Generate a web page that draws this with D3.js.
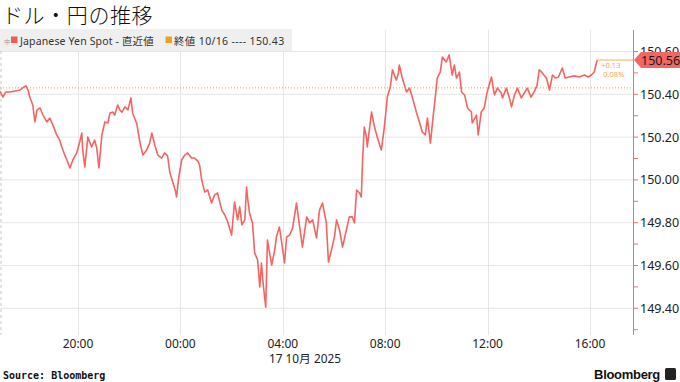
<!DOCTYPE html>
<html><head><meta charset="utf-8">
<script src="https://cdn.jsdelivr.net/npm/d3@7"></script>
<style>html,body{margin:0;padding:0;background:#fff;}svg{display:block;}</style>
</head><body><svg id="c" width="680" height="382"></svg>
<script>
const title = "ドル・円の推移";
const seriesName = "Japanese Yen Spot - 直近値";
const prevCloseLabel = "終値 10/16 ---- 150.43";
const prevClose = 150.43;
const lastValue = 150.56;
const changeText = ["+0.13", "0.08%"];
const yTicks = [149.40, 149.60, 149.80, 150.00, 150.20, 150.40, 150.60];
const yMinorTicks = [149.30, 149.50, 149.70, 149.90, 150.10, 150.30, 150.50];
const xTicks = ["2025-10-16 20:00","2025-10-17 00:00","2025-10-17 04:00","2025-10-17 08:00","2025-10-17 12:00","2025-10-17 16:00"];
const dateLabel = "17 10月 2025";
const source = "Source: Bloomberg";

const times = [
"10-16 16:57","10-16 17:04","10-16 17:11","10-16 17:20","10-16 17:32","10-16 17:44","10-16 17:53","10-16 17:58","10-16 18:03","10-16 18:07",
"10-16 18:14","10-16 18:19","10-16 18:24","10-16 18:31","10-16 18:38","10-16 18:47","10-16 18:54","10-16 19:01","10-16 19:10","10-16 19:17",
"10-16 19:22","10-16 19:29","10-16 19:34","10-16 19:41","10-16 19:48","10-16 19:57","10-16 20:04","10-16 20:09","10-16 20:11","10-16 20:16",
"10-16 20:23","10-16 20:32","10-16 20:39","10-16 20:44","10-16 20:49","10-16 20:56","10-16 21:03","10-16 21:10","10-16 21:15","10-16 21:22",
"10-16 21:26","10-16 21:33","10-16 21:38","10-16 21:43","10-16 21:50","10-16 21:57","10-16 22:04","10-16 22:08","10-16 22:18","10-16 22:25",
"10-16 22:32","10-16 22:41","10-16 22:48","10-16 22:53","10-16 23:00","10-16 23:07","10-16 23:16","10-16 23:23","10-16 23:30","10-16 23:35",
"10-16 23:42","10-16 23:49","10-16 23:51","10-16 23:56","10-17 00:03","10-17 00:10","10-17 00:17","10-17 00:26","10-17 00:33","10-17 00:41",
"10-17 00:45","10-17 00:50","10-17 00:57","10-17 01:04","10-17 01:13","10-17 01:20","10-17 01:27","10-17 01:37","10-17 01:44","10-17 01:51",
"10-17 02:00","10-17 02:07","10-17 02:14","10-17 02:19","10-17 02:24","10-17 02:31","10-17 02:35","10-17 02:38","10-17 02:42","10-17 02:49",
"10-17 02:54","10-17 03:01","10-17 03:06","10-17 03:10","10-17 03:13","10-17 03:20","10-17 03:24","10-17 03:34","10-17 03:41","10-17 03:45",
"10-17 03:52","10-17 04:00","10-17 04:04","10-17 04:09","10-17 04:16","10-17 04:23","10-17 04:32","10-17 04:39","10-17 04:46","10-17 04:56",
"10-17 05:03","10-17 05:10","10-17 05:19","10-17 05:26","10-17 05:33","10-17 05:42","10-17 05:47","10-17 05:54","10-17 06:01","10-17 06:06",
"10-17 06:13","10-17 06:20","10-17 06:29","10-17 06:36","10-17 06:43","10-17 06:48","10-17 06:53","10-17 07:00","10-17 07:04","10-17 07:07",
"10-17 07:11","10-17 07:16","10-17 07:18","10-17 07:28","10-17 07:35","10-17 07:42","10-17 07:51","10-17 07:58","10-17 08:05","10-17 08:12",
"10-17 08:17","10-17 08:26","10-17 08:31","10-17 08:33","10-17 08:40","10-17 08:50","10-17 08:57","10-17 09:04","10-17 09:13","10-17 09:20",
"10-17 09:27","10-17 09:34","10-17 09:39","10-17 09:46","10-17 09:51","10-17 09:58","10-17 10:02","10-17 10:09","10-17 10:14","10-17 10:23",
"10-17 10:30","10-17 10:37","10-17 10:42","10-17 10:47","10-17 10:54","10-17 10:59","10-17 11:06","10-17 11:13","10-17 11:22","10-17 11:24",
"10-17 11:34","10-17 11:38","10-17 11:45","10-17 11:52","10-17 11:59","10-17 12:09","10-17 12:16","10-17 12:23","10-17 12:32","10-17 12:35",
"10-17 12:44","10-17 12:51","10-17 12:56","10-17 13:03","10-17 13:10","10-17 13:19","10-17 13:26","10-17 13:33","10-17 13:42","10-17 13:49",
"10-17 13:56","10-17 14:01","10-17 14:08","10-17 14:18","10-17 14:25","10-17 14:32","10-17 14:39","10-17 14:46","10-17 14:55","10-17 15:02",
"10-17 15:11","10-17 15:23","10-17 15:35","10-17 15:47","10-17 15:56","10-17 16:03","10-17 16:10","10-17 16:15","10-17 16:17"
];
const values = [
150.415,150.387,150.411,150.411,150.415,150.420,150.434,150.439,150.420,150.387,
150.350,150.271,150.327,150.336,150.303,150.271,150.289,150.257,150.210,150.186,
150.154,150.116,150.093,150.056,150.093,150.126,150.177,150.219,150.140,150.060,
150.200,150.154,150.186,150.149,150.056,150.210,150.271,150.266,150.313,150.317,
150.303,150.350,150.327,150.317,150.341,150.327,150.383,150.313,150.261,150.177,
150.116,150.140,150.172,150.219,150.163,150.116,150.102,150.126,150.112,150.037,
149.990,149.943,149.920,150.009,150.093,150.116,150.126,150.102,150.102,150.088,
150.069,149.999,149.943,149.953,149.892,149.929,149.939,149.859,149.836,149.803,
149.742,149.897,149.813,149.874,149.790,149.813,149.967,149.906,149.845,149.799,
149.659,149.626,149.500,149.612,149.532,149.405,149.719,149.602,149.672,149.733,
149.780,149.672,149.612,149.733,149.742,149.775,149.892,149.789,149.686,149.827,
149.799,149.813,149.729,149.859,149.892,149.799,149.616,149.672,149.733,149.813,
149.766,149.686,149.766,149.827,149.827,149.799,149.953,149.939,149.920,150.093,
150.247,150.200,150.154,150.317,150.247,150.196,150.140,150.247,150.387,150.434,
150.514,150.467,150.500,150.537,150.476,150.411,150.429,150.383,150.317,150.271,
150.224,150.210,150.289,150.172,150.271,150.397,150.476,150.504,150.574,150.551,
150.584,150.490,150.537,150.476,150.504,150.411,150.397,150.336,150.317,150.266,
150.303,150.210,150.317,150.336,150.411,150.481,150.397,150.429,150.406,150.383,
150.429,150.383,150.341,150.397,150.429,150.383,150.406,150.429,150.387,150.411,
150.443,150.514,150.500,150.476,150.420,150.490,150.476,150.481,150.523,150.476,
150.481,150.486,150.481,150.490,150.481,150.490,150.504,150.546,150.560
];

const parse = d3.timeParse("%Y-%m-%d %H:%M");
const data = times.map((t, i) => ({ t: parse("2025-" + t), v: values[i] }));
const tickDates = xTicks.map(parse);

const svg = d3.select("#c");
const axisX = 633, plotTop = 30, plotBottom = 335;
const x = d3.scaleTime().domain([tickDates[0], tickDates[tickDates.length - 1]]).range([78, 590]);
const y = d3.scaleLinear().domain([149.40, 150.40]).range([308.3, 94.3]);

const FONT = "'Noto Sans','Noto Sans CJK JP',sans-serif";

// title
svg.append("text").attr("x", 2).attr("y", 23).text(title)
  .attr("font-family", "'Noto Sans CJK JP',sans-serif").attr("font-size", 21).attr("font-weight", 300).attr("fill", "#111")
  .attr("letter-spacing", 0.6);

// horizontal grid
svg.append("g").selectAll("line").data(yTicks).join("line")
  .attr("x1", 0).attr("x2", axisX).attr("y1", d => y(d)).attr("y2", d => y(d))
  .attr("stroke", "#e6e6e6").attr("stroke-width", 1);
// vertical grid
svg.append("g").selectAll("line").data(tickDates).join("line")
  .attr("x1", d => Math.round(x(d)) + 0.5).attr("x2", d => Math.round(x(d)) + 0.5)
  .attr("y1", plotTop).attr("y2", plotBottom)
  .attr("stroke", "#e6e6e6").attr("stroke-width", 1);

// left dashed boundary
svg.append("line").attr("x1", 1).attr("x2", 1).attr("y1", 51).attr("y2", plotBottom)
  .attr("stroke", "#c8c8c8").attr("stroke-dasharray", "3,3");

// prev close dotted
svg.append("line").attr("x1", 0).attr("x2", axisX).attr("y1", y(prevClose)).attr("y2", y(prevClose))
  .attr("stroke", "#f0a028").attr("stroke-width", 1).attr("stroke-dasharray", "1,2");

// series line
svg.append("path").datum(data)
  .attr("d", d3.line().x(d => x(d.t)).y(d => y(d.v)))
  .attr("fill", "none").attr("stroke", "#f26563").attr("stroke-width", 1.6).attr("stroke-linejoin", "round");

// last value connector
const last = data[data.length - 1];
svg.append("line").attr("x1", x(last.t)).attr("x2", axisX).attr("y1", y(lastValue)).attr("y2", y(lastValue))
  .attr("stroke", "#f3b060").attr("stroke-width", 1);
svg.append("text").attr("x", x(last.t) + 4).attr("y", y(lastValue) + 8).text(changeText[0])
  .attr("font-family", FONT).attr("font-size", 7.5).attr("fill", "#f0a848");
svg.append("text").attr("x", x(last.t) + 6).attr("y", y(lastValue) + 17).text(changeText[1])
  .attr("font-family", FONT).attr("font-size", 7.5).attr("fill", "#f0a848");

// legend box
svg.append("rect").attr("x", 0).attr("y", 29).attr("width", 292).attr("height", 22).attr("fill", "#efefef");
svg.append("text").attr("x", 4).attr("y", 44).text("中").attr("font-family", FONT).attr("font-size", 6).attr("fill", "#999");
svg.append("rect").attr("x", 11).attr("y", 36.5).attr("width", 6.5).attr("height", 6.5).attr("fill", "#f05a5a");
svg.append("text").attr("x", 20).attr("y", 44.5).text(seriesName)
  .attr("font-family", FONT).attr("font-size", 10.5).attr("fill", "#333").attr("letter-spacing", 0.15);
svg.append("rect").attr("x", 165.5).attr("y", 36.5).attr("width", 6.5).attr("height", 6.5).attr("fill", "#f0a020");
svg.append("text").attr("x", 174).attr("y", 44.5).text(prevCloseLabel)
  .attr("font-family", FONT).attr("font-size", 10.5).attr("fill", "#333").attr("letter-spacing", 0.35);

// right axis
svg.append("line").attr("x1", axisX + 0.5).attr("x2", axisX + 0.5).attr("y1", plotTop).attr("y2", plotBottom)
  .attr("stroke", "#f07070").attr("stroke-width", 1);
svg.append("g").selectAll("line").data(yTicks.concat(yMinorTicks)).join("line")
  .attr("x1", axisX + 0.5).attr("x2", axisX + 5).attr("y1", d => y(d)).attr("y2", d => y(d))
  .attr("stroke", "#f07070");
svg.append("g").selectAll("text").data(yTicks).join("text")
  .attr("x", 640).attr("y", d => y(d) + 4.5).text(d => d.toFixed(2))
  .attr("font-family", FONT).attr("font-size", 12.5).attr("fill", "#222");

// last value label
const ly = y(lastValue);
svg.append("path")
  .attr("d", `M${axisX + 1},${ly} L${axisX + 8},${ly - 8} L680,${ly - 8} L680,${ly + 8} L${axisX + 8},${ly + 8} Z`)
  .attr("fill", "#f26763");
svg.append("text").attr("x", 641).attr("y", ly + 4.5).text(lastValue.toFixed(2))
  .attr("font-family", FONT).attr("font-size", 12.5).attr("fill", "#1a1a1a");

// x tick labels
svg.append("g").selectAll("text").data(tickDates).join("text")
  .attr("x", d => x(d)).attr("y", 348).attr("text-anchor", "middle").text(d3.timeFormat("%H:%M"))
  .attr("font-family", FONT).attr("font-size", 12).attr("fill", "#222");
svg.append("text").attr("x", 269).attr("y", 362.5).text(dateLabel)
  .attr("font-family", FONT).attr("font-size", 11.8).attr("fill", "#222");

// footer
svg.append("text").attr("x", 3).attr("y", 379).text(source)
  .attr("font-family", "'DejaVu Sans Mono',monospace").attr("font-size", 10).attr("font-weight", "bold").attr("fill", "#111");
svg.append("text").attr("x", 660).attr("y", 379).attr("text-anchor", "end").text("Bloomberg")
  .attr("font-family", "'Liberation Sans',Arial,sans-serif").attr("font-size", 13).attr("font-weight", "bold").attr("fill", "#111").attr("letter-spacing", -0.3);
svg.append("rect").attr("x", 665).attr("y", 368).attr("width", 11).attr("height", 12).attr("rx", 1.5).attr("fill", "#222");
</script></body></html>
